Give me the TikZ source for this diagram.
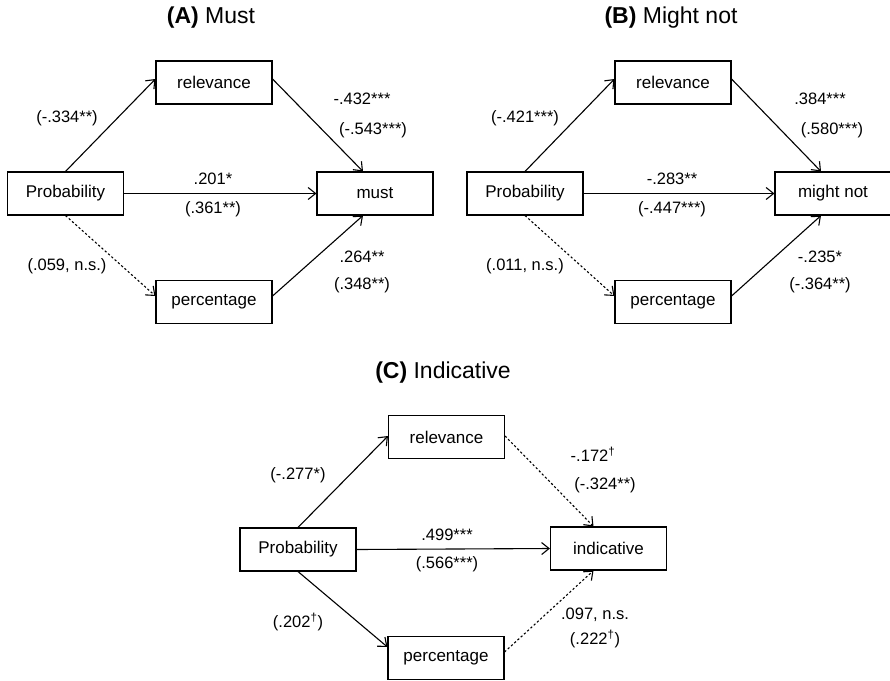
\documentclass[tikz,border=0pt]{standalone}
\usepackage{fontspec}
\setmainfont{Liberation Sans}
\usetikzlibrary{arrows.meta}
\newcommand{\dg}{\textsuperscript{†}}
\tikzset{
  box/.style={draw, line width=1.1pt, minimum width=116pt, minimum height=43pt, inner sep=0pt, font=\fontsize{17}{20}\selectfont},
  lbl/.style={inner sep=0pt, font=\fontsize{16.5}{19}\selectfont},
  ttl/.style={inner sep=0pt, font=\fontsize{23}{27}\selectfont},
  arr/.style={-{Straight Barb[length=7.5pt,width=12pt,line width=1.1pt]}, line width=1.1pt},
  dotarr/.style={arr, dash pattern=on 2.2pt off 2.2pt}
}
\begin{document}
\begin{tikzpicture}[x=1pt,y=-1pt]
\useasboundingbox (0,0) rectangle (890,680);
% ---------- Panel A ----------
\node[ttl] (tA) at (211,18) {\textbf{(A)} Must};
\node[box] (pA) at (65.5,193.5) {Probability};
\node[box] (rA) at (214,82.5) {relevance};
\node[box] (mA) at (375,193.5) {must};
\node[box] (cA) at (214,302) {percentage};
\draw[arr] (pA.north) -- ([yshift=3.5pt]rA.west);
\draw[arr] ([yshift=3.5pt]rA.east) -- ([xshift=-12pt]mA.north);
\draw[arr] (pA.east) -- (mA.west);
\draw[dotarr] (pA.south) -- ([yshift=6pt]cA.west);
\draw[arr] ([yshift=6pt]cA.east) -- ([xshift=-12pt]mA.south);
\node[lbl] (a1) at (67,118) {(-.334**)};
\node[lbl] (a2) at (362,99) {-.432***};
\node[lbl] (a3) at (373,130) {(-.543***)};
\node[lbl] (a4) at (213,179) {.201*};
\node[lbl] (a5) at (213,209) {(.361**)};
\node[lbl] (a6) at (67,266) {(.059, n.s.)};
\node[lbl] (a7) at (362,257) {.264**};
\node[lbl] (a8) at (362,285) {(.348**)};
% ---------- Panel B ----------
\node[ttl] (tB) at (671,18) {\textbf{(B)} Might not};
\node[box] (pB) at (525,193.5) {Probability};
\node[box] (rB) at (673,82.5) {relevance};
\node[box] (mB) at (833,193.5) {might not};
\node[box] (cB) at (673,302) {percentage};
\draw[arr] (pB.north) -- ([yshift=3.5pt]rB.west);
\draw[arr] ([yshift=3.5pt]rB.east) -- ([xshift=-12pt]mB.north);
\draw[arr] (pB.east) -- (mB.west);
\draw[dotarr] (pB.south) -- ([yshift=6pt]cB.west);
\draw[arr] ([yshift=6pt]cB.east) -- ([xshift=-12pt]mB.south);
\node[lbl] (b1) at (525,118) {(-.421***)};
\node[lbl] (b2) at (820,99) {.384***};
\node[lbl] (b3) at (832,130) {(.580***)};
\node[lbl] (b4) at (672,179) {-.283**};
\node[lbl] (b5) at (672,209) {(-.447***)};
\node[lbl] (b6) at (525,266) {(.011, n.s.)};
\node[lbl] (b7) at (820,257) {-.235*};
\node[lbl] (b8) at (820,285) {(-.364**)};
% ---------- Panel C ----------
\node[ttl] (tC) at (443,373) {\textbf{(C)} Indicative};
\node[box] (pC) at (298,549.5) {Probability};
\node[box] (rC) at (446.5,437) {relevance};
\node[box] (iC) at (608.5,548.5) {indicative};
\node[box] (cC) at (446,658) {percentage};
\draw[arr] (pC.north) -- ([yshift=1pt]rC.west);
\draw[dotarr] ([yshift=1pt]rC.east) -- ([xshift=-15pt]iC.north);
\draw[arr] (pC.east) -- (iC.west);
\draw[arr] (pC.south) -- ([yshift=11pt]cC.west);
\draw[dotarr] ([yshift=6pt]cC.east) -- ([xshift=-15pt]iC.south);
\node[lbl] (c1) at (298,475) {(-.277*)};
\node[lbl] (c2) at (593,454) {-.172\dg};
\node[lbl] (c3) at (605,485) {(-.324**)};
\node[lbl] (c4) at (447,535) {.499***};
\node[lbl] (c5) at (447,564) {(.566***)};
\node[lbl] (c6) at (298,622) {(.202\dg)};
\node[lbl] (c7) at (595,615) {.097, n.s.};
\node[lbl] (c8) at (595,639) {(.222\dg)};
\end{tikzpicture}
\end{document}
